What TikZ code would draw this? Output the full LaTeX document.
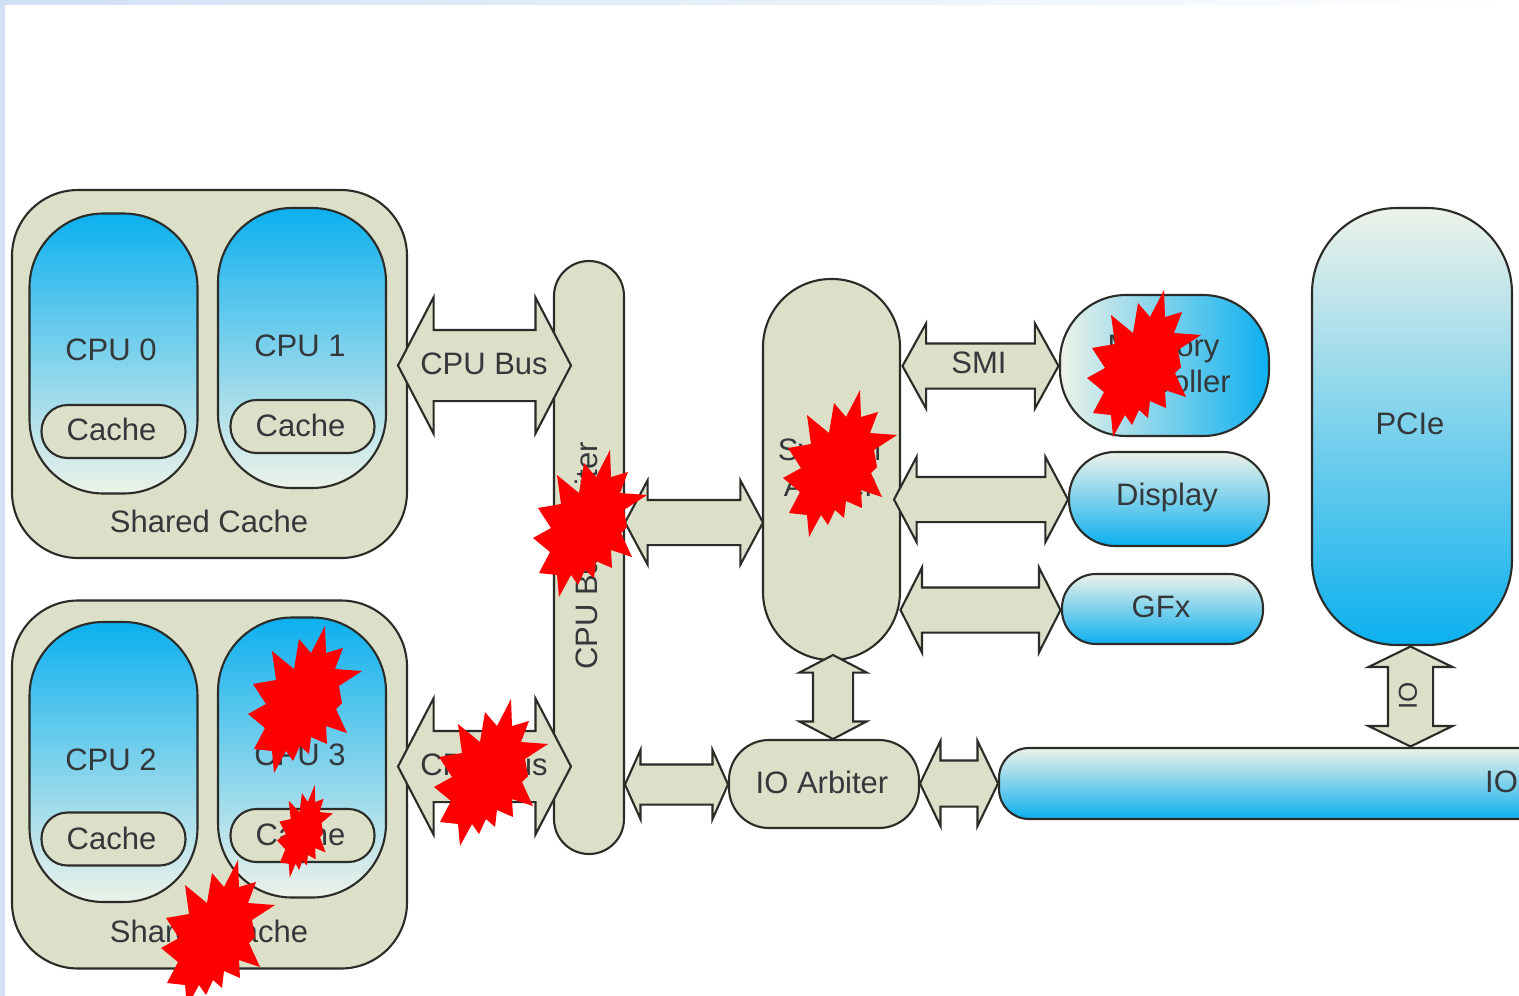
\documentclass[tikz,border=0pt]{standalone}
\usepackage{fontspec}
\setmainfont{Liberation Sans}
\usetikzlibrary{shapes.arrows}
\definecolor{boxfill}{HTML}{DCE0C9}
\definecolor{edgeink}{HTML}{2B2B28}
\definecolor{textink}{HTML}{34383A}
\definecolor{skyblue}{HTML}{0CB0EF}
\definecolor{paleend}{HTML}{EDF2E9}
\definecolor{frameblue}{HTML}{CFE1F3}
\tikzset{
  x=1pt,y=-1pt,
  boxbase/.style={draw=edgeink,line width=2.1pt,inner sep=0pt},
  palebox/.style={boxbase,fill=boxfill},
  cpubox/.style={boxbase,top color=skyblue,bottom color=paleend,minimum width=168pt,minimum height=280pt,rounded corners=74pt},
  cachebox/.style={palebox,minimum width=144pt,minimum height=53pt,rounded corners=26pt},
  groupbox/.style={palebox,minimum width=395pt,minimum height=368pt,rounded corners=66pt},
  downblue/.style={boxbase,top color=paleend,bottom color=skyblue},
  sized/.style n args={3}{minimum width=#1pt,minimum height=#2pt,rounded corners=#3pt},
  dblarrow/.style n args={4}{shape=double arrow,draw=edgeink,fill=boxfill,line width=2.1pt,inner sep=0pt,
    minimum height=#1pt,minimum width=#2pt,
    double arrow head extend={(#2-#3)/2*1pt},
    double arrow tip angle={2*atan(#2/2/#4)},
    execute at begin node={\rule{0pt}{#3pt}}},
  label text/.style={inner sep=0pt,text=textink,font=\fontsize{31}{36}\selectfont,align=center},
  burstmark/.pic={\fill[red] (77,0)--(78,27)--(95,22)--(87,43)--(114,45)--(91,60)--(94,77)--(88,83)--(99,107)--(78,100)--(79,118)--(63,111)--(61,128)--(52,120)--(45,135)--(38,125)--(26,147)--(24,125)--(6,123)--(17,102)--(0,88)--(18,78)--(5,58)--(28,54)--(24,25)--(46,43)--(51,13)--(63,27)--cycle;},
}
\begin{document}
\begin{tikzpicture}
\useasboundingbox (0,0) rectangle (1519,996);
\begin{scope}
\clip (0,0) rectangle (1519,996);
\fill[white] (0,0) rectangle (1519,996);
\shade[left color=frameblue,right color=white] (0,0) rectangle (1519,4);
\fill[frameblue] (0,0) rectangle (4.5,996);

% upper CPU group
\node[groupbox] (groupA) at (209.5,374) {};
\node[cpubox] (cpu0) at (113.5,353.5) {};
\node[cpubox] (cpu1) at (302,348) {};
\node[label text] (cpu0t) at (111,350) {CPU 0};
\node[label text] (cpu1t) at (300,346) {CPU 1};
\node[cachebox] (cache0) at (113.5,431.5) {};
\node[cachebox] (cache1) at (302.5,426.5) {};
\node[label text] (cache0t) at (111.5,429) {Cache};
\node[label text] (cache1t) at (300.5,425) {Cache};
\node[label text] (sharedA) at (209,521) {Shared Cache};

% lower CPU group
\node[groupbox] (groupB) at (209.5,784.5) {};
\node[cpubox] (cpu2) at (113.5,762) {};
\node[cpubox] (cpu3) at (302,757.5) {};
\node[label text] (cpu2t) at (111,760) {CPU 2};
\node[label text] (cpu3t) at (300,755) {CPU 3};
\node[cachebox] (cache2) at (113.5,839) {};
\node[cachebox] (cache3) at (302.5,835.5) {};
\node[label text] (cache2t) at (111.5,838) {Cache};
\node[label text] (cache3t) at (300.5,834) {Cache};
\node[label text] (sharedB) at (209,931) {Shared Cache};

% arbiters and buses
\node[palebox,sized={70}{593}{35}] (busarb) at (589,557.5) {};
\node[label text,rotate=90] (busarbt) at (586,556) {CPU Bus Arbiter};
\node[palebox,sized={137}{381}{68}] (sysarb) at (831.5,469.5) {};
\node[label text] (sysarbt) at (829.5,467.5) {System\\Arbiter};
\node[palebox,sized={190}{88}{40}] (ioarb) at (824,784) {};
\node[label text] (ioarbt) at (822,782) {IO Arbiter};
\node[downblue,sized={600}{71}{30}] (iobus) at (1299,783.5) {};
\node[label text,anchor=west] (iobust) at (1485,782) {IO};

% peripherals
\node[boxbase,left color=paleend,right color=skyblue,sized={209}{141}{66}] (memctl) at (1164.5,365.5) {};
\node[label text] (memctlt) at (1163.5,364) {Memory\\Controller};
\node[downblue,sized={200}{94}{46}] (display) at (1169,499) {};
\node[label text] (displayt) at (1167,497) {Display};
\node[downblue,sized={201}{70}{34}] (gfx) at (1162.5,609) {};
\node[label text] (gfxt) at (1161,607) {GFx};
\node[downblue,sized={200}{437}{85}] (pcie) at (1412,426.5) {};
\node[label text] (pciet) at (1410,424) {PCIe};

% block arrows
\node[dblarrow={173}{134}{69}{35}] (busA) at (484.5,365.5) {};
\node[label text] (busAt) at (484,364) {CPU Bus};
\node[dblarrow={173}{134}{69}{35}] (busB) at (484.5,766.5) {};
\node[label text] (busBt) at (484,765) {CPU Bus};
\node[dblarrow={138}{82}{43}{22}] (midarrow) at (694,522.5) {};
\node[dblarrow={103}{67}{38}{15}] (lowarrow) at (676.5,784.5) {};
\node[dblarrow={78}{83}{44}{20}] (ioarrow) at (959,783.5) {};
\node[dblarrow={156}{83}{43}{23}] (smiarrow) at (980.5,366) {};
\node[label text] (smit) at (979,363) {SMI};
\node[dblarrow={174}{83}{43}{22}] (disparrow) at (981,499.5) {};
\node[dblarrow={160}{83}{43}{21}] (gfxarrow) at (980.5,610) {};
\node[dblarrow={84}{65}{38}{17},rotate=90] (vsys) at (833,697) {};
\node[dblarrow={100}{82}{43}{20},rotate=90] (vio) at (1410.5,696.5) {};
\node[label text,rotate=90,font=\fontsize{26}{30}\selectfont] (viot) at (1408,696) {IO};

% bursts
\pic at (533,450) {burstmark};
\pic at (783,390) {burstmark};
\pic at (1087,290) {burstmark};
\pic at (248,626) {burstmark};
\pic at (434,699) {burstmark};
\pic[xscale=.49,yscale=.63] at (277,785) {burstmark};
\pic at (161,860) {burstmark};
\end{scope}
\end{tikzpicture}
\end{document}
